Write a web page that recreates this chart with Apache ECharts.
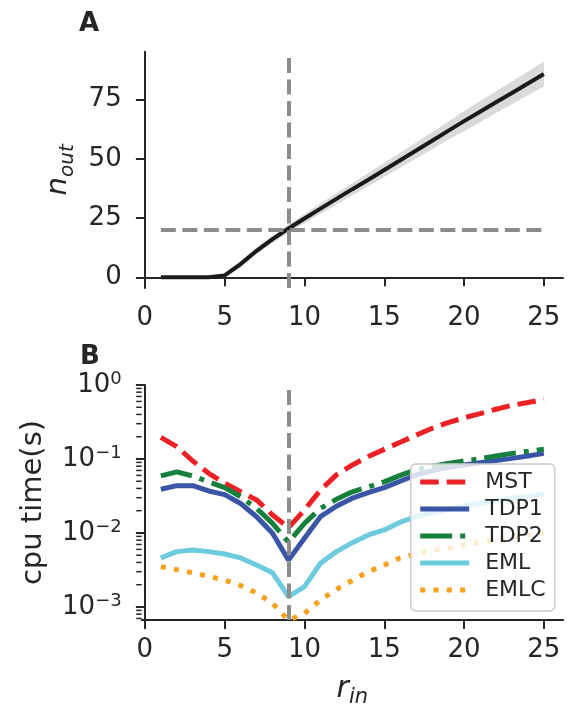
<!DOCTYPE html>
<html><head><meta charset="utf-8">
<script src="https://cdn.jsdelivr.net/npm/echarts@6/dist/echarts.min.js"></script>
<style>html,body{margin:0;padding:0;background:#fff}#c{width:572px;height:711px}</style>
</head><body><div id="c"></div>
<script>
const rIn = [1,2,3,4,5,6,7,8,9,10,11,12,13,14,15,16,17,18,19,20,21,22,23,24,25];
const nOutMean = [0,0,0,0,0.8,5.6,11.2,16.1,20.6,24.8,29.0,33.1,37.2,41.2,45.3,49.4,53.5,57.6,61.8,65.9,69.9,73.9,77.8,81.8,85.8];
const nOutLow  = [-0.3,-0.3,-0.3,-0.3,0.0,4.1,9.7,14.5,18.9,22.8,26.8,30.7,34.6,38.4,42.3,46.2,50.1,54.0,58.0,61.6,65.4,69.3,73.0,76.8,80.5];
const nOutHigh = [0.3,0.3,0.3,0.3,1.6,7.1,12.7,17.7,22.3,26.8,31.2,35.5,39.8,44.0,48.3,52.6,56.9,61.2,65.6,70.2,74.4,78.5,82.6,86.8,91.1];
const rThreshold = [9];
const nThreshold = [20];

const seriesNames = ['MST','TDP1','TDP2','EML','EMLC'];
const cpuMST  = [0.196,0.147,0.094,0.064,0.047,0.036,0.028,0.0175,0.0118,0.0205,0.038,0.061,0.083,0.108,0.135,0.168,0.21,0.26,0.31,0.36,0.41,0.47,0.53,0.58,0.64];
const cpuTDP1 = [0.039,0.0436,0.0436,0.037,0.033,0.025,0.0166,0.0099,0.0043,0.0085,0.0166,0.023,0.0295,0.035,0.041,0.05,0.061,0.069,0.077,0.083,0.089,0.095,0.102,0.11,0.119];
const cpuTDP2 = [0.059,0.067,0.059,0.049,0.041,0.031,0.0215,0.0135,0.0075,0.0135,0.0215,0.0285,0.036,0.042,0.049,0.06,0.072,0.08,0.087,0.094,0.101,0.11,0.119,0.127,0.136];
const cpuEML  = [0.0046,0.0056,0.0059,0.0056,0.0052,0.0046,0.0037,0.0029,0.00138,0.00188,0.0039,0.0056,0.0074,0.0094,0.011,0.014,0.0166,0.0188,0.021,0.0234,0.025,0.0274,0.0295,0.031,0.034];
const cpuEMLC = [0.0035,0.0032,0.0029,0.0026,0.0023,0.00195,0.00155,0.00112,0.00066,0.00082,0.00124,0.00173,0.0023,0.003,0.0037,0.0046,0.0052,0.0058,0.0062,0.0069,0.0074,0.0081,0.0087,0.0094,0.0101];

const xTicks = [0,5,10,15,20,25];
const nTicks = [0,25,50,75];
const cpuMajorTicks = [0.001,0.01,0.1,1];
const cpuMinorTicks = [0.0007,0.0008,0.0009,0.002,0.003,0.004,0.005,0.006,0.007,0.008,0.009,0.02,0.03,0.04,0.05,0.06,0.07,0.08,0.09,0.2,0.3,0.4,0.5,0.6,0.7,0.8,0.9];

const FONT = 'DejaVu Sans';
const INK = '#262626';
const GRAY = '#8c8c8c';
const X_MIN = -0.2, X_MAX = 26.2;
const pairs = (ys) => rIn.map((x, i) => [x, ys[i]]);

const axisLineStyle = { show: true, lineStyle: { color: INK, width: 2 } };
const tickStyle = (vals, len) => ({ show: true, customValues: vals, length: len, lineStyle: { color: INK, width: 2 } });
const labelStyle = (vals, margin) => ({ show: true, customValues: vals, fontSize: 26, color: INK, fontFamily: FONT, margin: margin });

const sup = (v) => { const e = Math.round(Math.log10(v)); return '10{s|' + (e < 0 ? '\u2212' + (-e) : e) + '}'; };

const option = {
  animation: false,
  backgroundColor: '#fff',
  textStyle: { fontFamily: FONT },
  title: [
    { text: 'A', left: 74, top: 6, textStyle: { fontSize: 26, fontWeight: 'bold', color: INK, fontFamily: FONT } },
    { text: 'B', left: 75, top: 339, textStyle: { fontSize: 26, fontWeight: 'bold', color: INK, fontFamily: FONT } }
  ],
  grid: [
    { left: 141.7, top: 51.7, width: 421.3, height: 236.3, outerBoundsMode: 'none' },
    { left: 141.7, top: 385, width: 421.3, height: 235, outerBoundsMode: 'none' }
  ],
  xAxis: [
    { gridIndex: 0, type: 'value', min: X_MIN, max: X_MAX, axisLine: axisLineStyle, axisTick: tickStyle(xTicks, 9), axisLabel: labelStyle(xTicks, 17), splitLine: { show: false } },
    { gridIndex: 1, type: 'value', min: X_MIN, max: X_MAX, axisLine: axisLineStyle, axisTick: tickStyle(xTicks, 9), axisLabel: labelStyle(xTicks, 17), splitLine: { show: false },
      name: '{r|r}{s|in}', nameLocation: 'middle', nameGap: 50,
      nameTextStyle: { rich: {
        r: { fontSize: 30, fontStyle: 'italic', fontFamily: FONT, color: INK, lineHeight: 38 },
        s: { fontSize: 21, fontStyle: 'italic', fontFamily: FONT, color: INK, lineHeight: 21, verticalAlign: 'bottom' } } } }
  ],
  yAxis: [
    { gridIndex: 0, type: 'value', min: -4.5, max: 95.2, axisLine: axisLineStyle, axisTick: tickStyle(nTicks, 9), axisLabel: labelStyle(nTicks, 20), splitLine: { show: false },
      name: '{n|n}{s|out}', nameLocation: 'middle', nameGap: 62, nameRotate: 90,
      nameTextStyle: { rich: {
        n: { fontSize: 29, fontStyle: 'italic', fontFamily: FONT, color: INK, lineHeight: 38 },
        s: { fontSize: 20, fontStyle: 'italic', fontFamily: FONT, color: INK, lineHeight: 20, verticalAlign: 'bottom' } } } },
    { gridIndex: 1, type: 'log', logBase: 10, min: 0.000667, max: 1, axisLine: axisLineStyle, axisTick: tickStyle(cpuMajorTicks, 9),
      axisLabel: Object.assign(labelStyle(cpuMajorTicks, 20), { formatter: sup, lineHeight: 30,
        rich: { s: { fontSize: 18, color: INK, fontFamily: FONT, verticalAlign: 'top' } } }),
      splitLine: { show: false },
      name: 'cpu time(s)', nameLocation: 'middle', nameGap: 94, nameRotate: 90,
      nameTextStyle: { fontSize: 29, color: INK, fontFamily: FONT } }
  ],
  legend: {
    orient: 'vertical', left: 410.7, top: 464,
    padding: [7, 9, 10, 7],
    itemWidth: 49, itemHeight: 14, itemGap: 5,
    backgroundColor: 'rgba(255,255,255,0.8)', borderColor: '#cccccc', borderWidth: 1.5, borderRadius: 5,
    itemStyle: { opacity: 0, borderWidth: 0 },
    lineStyle: { width: 5 },
    textStyle: { fontSize: 22, color: INK, fontFamily: FONT, padding: [0, 0, 0, 11], lineHeight: 22 },
    data: seriesNames
  },
  series: [
    { type: 'custom', xAxisIndex: 0, yAxisIndex: 0, silent: true, z: 1,
      data: rIn.map((x, i) => [x, nOutLow[i], nOutHigh[i]]),
      encode: { x: 0, y: [1, 2] },
      renderItem: (params, api) => {
        if (params.dataIndex !== 0) return null;
        const pts = [];
        for (let i = 0; i < rIn.length; i++) pts.push(api.coord([rIn[i], nOutHigh[i]]));
        for (let i = rIn.length - 1; i >= 0; i--) pts.push(api.coord([rIn[i], nOutLow[i]]));
        return { type: 'polygon', shape: { points: pts }, style: { fill: '#dadada' } };
      } },
    { type: 'line', xAxisIndex: 0, yAxisIndex: 0, data: pairs(nOutMean), symbol: 'none', z: 3, lineStyle: { color: '#1a1a1a', width: 4 }, silent: true,
      markLine: { silent: true, symbol: 'none', label: { show: false }, lineStyle: { color: GRAY, width: 4, type: [15, 6.5] },
        data: [ { xAxis: rThreshold[0] }, [ { coord: [rIn[0], nThreshold[0]] }, { coord: [rIn[rIn.length - 1], nThreshold[0]] } ] ] } },
    { type: 'custom', xAxisIndex: 1, yAxisIndex: 1, silent: true, clip: false, z: 4,
      data: cpuMinorTicks.map((v) => [X_MIN, v]),
      renderItem: (params, api) => {
        const p = api.coord([api.value(0), api.value(1)]);
        return { type: 'line', shape: { x1: p[0] - 5.5, y1: p[1], x2: p[0], y2: p[1] }, style: { stroke: INK, lineWidth: 1.5 } };
      } },
    { name: 'MST', type: 'line', xAxisIndex: 1, yAxisIndex: 1, data: pairs(cpuMST), symbol: 'none', lineStyle: { color: '#ed2024', width: 5, type: [18.5, 8] }, itemStyle: { color: '#ed2024' } },
    { name: 'TDP1', type: 'line', xAxisIndex: 1, yAxisIndex: 1, data: pairs(cpuTDP1), symbol: 'none', lineStyle: { color: '#3a55a5', width: 5 }, itemStyle: { color: '#3a55a5' } },
    { name: 'TDP2', type: 'line', xAxisIndex: 1, yAxisIndex: 1, data: pairs(cpuTDP2), symbol: 'none', lineStyle: { color: '#14803c', width: 5, type: [32, 8, 5, 8] }, itemStyle: { color: '#14803c' } },
    { name: 'EML', type: 'line', xAxisIndex: 1, yAxisIndex: 1, data: pairs(cpuEML), symbol: 'none', lineStyle: { color: '#6ccbdc', width: 5 }, itemStyle: { color: '#6ccbdc' } },
    { name: 'EMLC', type: 'line', xAxisIndex: 1, yAxisIndex: 1, data: pairs(cpuEMLC), symbol: 'none', lineStyle: { color: '#f9a11b', width: 5, type: [5, 8.3] }, itemStyle: { color: '#f9a11b' },
      markLine: { silent: true, symbol: 'none', label: { show: false }, lineStyle: { color: GRAY, width: 4, type: [15, 6.5] },
        data: [ { xAxis: rThreshold[0] } ] } }
  ]
};
const chart = echarts.init(document.getElementById('c'), null, { renderer: 'canvas' });
chart.setOption(option);
</script></body></html>
